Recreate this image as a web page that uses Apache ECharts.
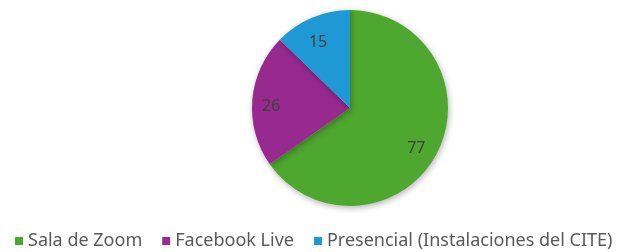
<!DOCTYPE html>
<html>
<head>
<meta charset="utf-8">
<script src="https://cdn.jsdelivr.net/npm/echarts@6/dist/echarts.min.js"></script>
<style>
  html, body { margin: 0; padding: 0; background: #fff; }
</style>
</head>
<body>
<div id="chart" style="width: 624px; height: 252px"></div>
<script>
const categories = ['Sala de Zoom', 'Facebook Live', 'Presencial (Instalaciones del CITE)']
const values = [77, 26, 15]
const colors = ['#4ea72e', '#98298e', '#1f99d5']

const pieData = categories.map((name, i) => ({
  name,
  value: values[i],
  itemStyle: { color: colors[i] },
}))

const chart = echarts.init(document.getElementById('chart'))

chart.setOption({
  animation: false,
  legend: {
    left: 10,
    top: 232,
    padding: [0, 5],
    itemWidth: 8,
    itemHeight: 8,
    itemGap: 20,
    icon: 'rect',
    textStyle: {
      color: '#595959',
      fontSize: 18,
      fontFamily: 'Noto Sans',
    },
    data: categories,
  },
  series: [
    {
      type: 'pie',
      center: [350, 108],
      radius: [0, 98],
      startAngle: 90,
      data: pieData,
      label: { show: false },
      labelLine: { show: false },
      itemStyle: {
        shadowBlur: 6,
        shadowOffsetX: 1,
        shadowOffsetY: 2,
        shadowColor: 'rgba(0, 0, 0, 0.3)',
      },
    },
    {
      type: 'pie',
      center: [350, 108],
      radius: [50, 98],
      startAngle: 90,
      silent: true,
      legendHoverLink: false,
      data: pieData.map(d => ({ name: d.name, value: d.value })),
      itemStyle: { color: 'transparent' },
      label: {
        show: true,
        position: 'inside',
        formatter: '{c}',
        color: '#404040',
        fontSize: 16,
        fontFamily: 'Noto Sans',
        offset: [-2, 5],
      },
      labelLine: { show: false },
    },
  ],
})
</script>
</body>
</html>
